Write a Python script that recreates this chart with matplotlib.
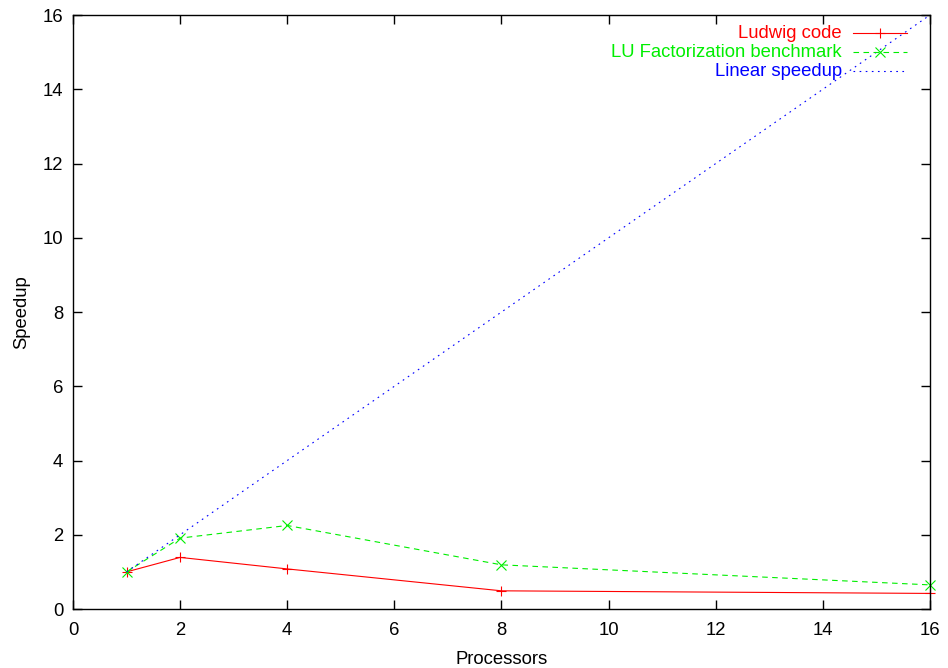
import matplotlib
matplotlib.use('Agg')
import matplotlib.pyplot as plt

plt.rcParams['font.family'] = ['Liberation Sans', 'DejaVu Sans']
plt.rcParams['font.size'] = 13.3

# processor counts and measured speedups
procs = [1, 2, 4, 8, 16]
ludwig = [1.0, 1.39, 1.08, 0.49, 0.42]
lu_bench = [1.0, 1.91, 2.25, 1.19, 0.65]
linear = [1, 2, 4, 8, 16]

labels = ['Ludwig code', 'LU Factorization benchmark', 'Linear speedup']
colors = ['#ff0000', '#00ee00', '#0000ff']
xticks = [0, 2, 4, 6, 8, 10, 12, 14, 16]
yticks = [0, 2, 4, 6, 8, 10, 12, 14, 16]

fig = plt.figure(figsize=(9.48, 6.68), dpi=100)
ax = fig.add_axes([0.077, 0.0883, 0.904, 0.8892])

lw = 0.8
ms = 6.5
styles = [dict(ls='-', marker='+'),
          dict(ls=(0, (5, 4)), marker='x'),
          dict(ls=(0, (1.5, 4)), marker='None')]
series = [ludwig, lu_bench, linear]
for vals, st, c in zip(series, styles, colors):
    ax.plot(procs, vals, color=c, lw=lw, ls=st['ls'], marker=st['marker'],
            ms=ms, mew=lw, clip_on=False)

ax.set_xlim(0, 16)
ax.set_ylim(0, 16)
ax.set_xticks(xticks)
ax.set_yticks(yticks)
ax.tick_params(direction='in', length=6.5, width=1, top=True, right=True, pad=7)
ax.tick_params(axis='x', pad=9)
for s in ax.spines.values():
    s.set_linewidth(1)
ax.set_xlabel('Processors', labelpad=9)
ax.set_ylabel('Speedup', labelpad=9)

# key in the top right corner, text right-aligned before the line sample
tx = (842 - 73) / 857.0
x0, x1 = (853 - 73) / 857.0, (907 - 73) / 857.0
xm = (x0 + x1) / 2
rows = [1 - (33 - 15) / 594.0, 1 - (52 - 15) / 594.0, 1 - (71 - 15) / 594.0]
for lab, c, st, y in zip(labels, colors, styles, rows):
    ax.text(tx, y, lab, color=c, ha='right', va='center', transform=ax.transAxes)
    ax.plot([x0, x1], [y, y], color=c, lw=lw, ls=st['ls'],
            transform=ax.transAxes, clip_on=False)
    if st['marker'] != 'None':
        ax.plot([xm], [y], color=c, marker=st['marker'], ms=ms, mew=lw,
                transform=ax.transAxes, clip_on=False)

fig.savefig('out.png', dpi=100)
